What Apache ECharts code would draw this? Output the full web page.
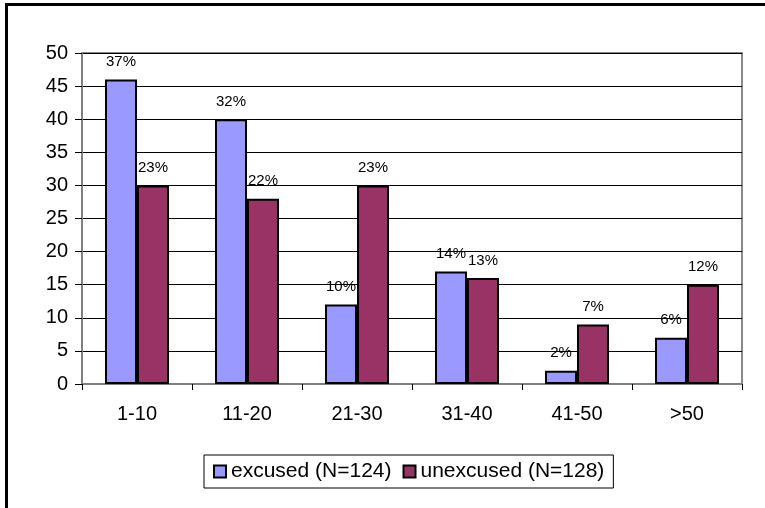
<!DOCTYPE html>
<html>
<head>
<meta charset="utf-8">
<script src="https://cdn.jsdelivr.net/npm/echarts@6/dist/echarts.min.js"></script>
<style>
  html, body { margin: 0; padding: 0; background: #ffffff; }
  #chart { width: 765px; height: 508px; }
</style>
</head>
<body>
<div id="chart"></div>
<script>
// Absence length groups (days)
const categories = ['1-10', '11-20', '21-30', '31-40', '41-50', '>50'];

// Number of students per group
const excused = [46, 40, 12, 17, 2, 7];
const unexcused = [30, 28, 30, 16, 9, 15];

// Share of each group within its series
const excusedPct = ['37%', '32%', '10%', '14%', '2%', '6%'];
const unexcusedPct = ['23%', '22%', '23%', '13%', '7%', '12%'];

const seriesNames = ['excused (N=124)', 'unexcused (N=128)'];
const yTicks = { min: 0, max: 50, interval: 5 };

const FONT = '"Liberation Sans", Arial, sans-serif';

const chart = echarts.init(document.getElementById('chart'), null, { renderer: 'canvas' });

function pctLabel(list) {
  return {
    show: true,
    position: 'top',
    distance: 10,
    color: '#000',
    fontFamily: FONT,
    fontSize: 15,
    formatter: p => list[p.dataIndex]
  };
}

chart.setOption({
  backgroundColor: '#ffffff',
  animation: false,
  textStyle: { fontFamily: FONT },
  graphic: [{
    type: 'rect',
    shape: { x: 6.5, y: 4.5, width: 900, height: 700 },
    style: { fill: 'none', stroke: '#000', lineWidth: 3 },
    silent: true,
    z: 10
  }],
  grid: {
    left: 82, top: 53, right: 23, bottom: 124,
    show: true,
    borderColor: '#8a8a8a',
    borderWidth: 2,
    backgroundColor: 'transparent'
  },
  legend: {
    data: seriesNames,
    left: 204,
    top: 455,
    padding: [6, 9, 6, 9],
    itemWidth: 12,
    itemHeight: 12,
    itemGap: 11,
    borderColor: '#000',
    borderWidth: 1,
    icon: 'rect',
    textStyle: { color: '#000', fontSize: 21, fontFamily: FONT },
    itemStyle: { borderColor: '#000', borderWidth: 2 }
  },
  xAxis: {
    type: 'category',
    data: categories,
    axisLine: { show: true, lineStyle: { color: '#808080', width: 2 } },
    axisTick: { show: true, alignWithLabel: false, length: 6, lineStyle: { color: '#000' } },
    axisLabel: { color: '#000', fontSize: 20, fontFamily: FONT, margin: 20 },
    splitLine: { show: false }
  },
  yAxis: {
    type: 'value',
    min: yTicks.min,
    max: yTicks.max,
    interval: yTicks.interval,
    axisLine: { show: true, lineStyle: { color: '#808080', width: 2 } },
    axisTick: { show: true, length: 7, lineStyle: { color: '#000' } },
    axisLabel: { color: '#000', fontSize: 20, fontFamily: FONT, margin: 14 },
    splitLine: { show: true, lineStyle: { color: '#000', width: 1 } }
  },
  series: [
    {
      name: seriesNames[0],
      type: 'bar',
      data: excused,
      barWidth: 32,
      barGap: '0%',
      itemStyle: { color: '#9999ff', borderColor: '#000', borderWidth: 2 },
      label: pctLabel(excusedPct)
    },
    {
      name: seriesNames[1],
      type: 'bar',
      data: unexcused,
      barWidth: 32,
      barGap: '0%',
      itemStyle: { color: '#993366', borderColor: '#000', borderWidth: 2 },
      label: pctLabel(unexcusedPct)
    }
  ]
});
</script>
</body>
</html>
